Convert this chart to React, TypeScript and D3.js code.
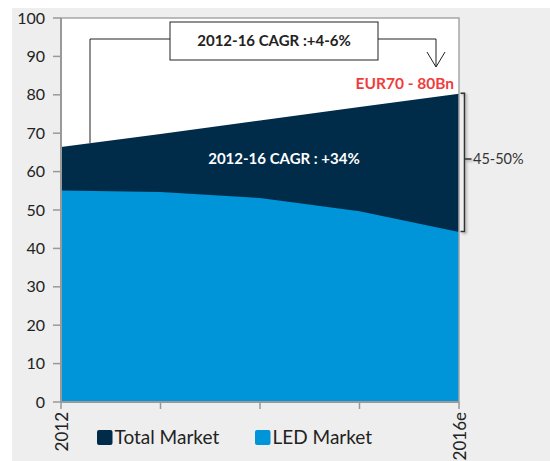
import React from "react";
import * as d3 from "d3";

const categories = ["2012", "2013", "2014", "2015", "2016e"];
const tickLabels = ["2012", "", "", "", "2016e"];
const totalMarket = [66.4, 69.8, 73.3, 76.8, 80.3];
const ledMarket = [55.1, 54.7, 53.1, 49.7, 44.3];
const yTicks = [0, 10, 20, 30, 40, 50, 60, 70, 80, 90, 100];

const W = 550;
const H = 461;
const FONT = "Lato, 'Open Sans', sans-serif";
const DARK = "#002b49";
const BLUE = "#0094d8";

export default function App() {
  const x = d3.scalePoint<string>().domain(categories).range([61, 459]);
  const y = d3.scaleLinear().domain([0, 100]).range([402, 18]);

  const area = (vals: number[]) =>
    d3
      .area<number>()
      .x((_, i) => x(categories[i]) as number)
      .y0(y(0))
      .y1((d) => y(d))
      .curve(d3.curveLinear)(vals) as string;

  const x0 = x(categories[0]) as number;
  const x1 = x(categories[categories.length - 1]) as number;

  return (
    <svg
      width={W}
      height={H}
      style={{ position: "absolute", left: 0, top: 0, fontFamily: FONT }}
    >
      <defs>
        <filter id="sh" x="-50%" y="-10%" width="200%" height="120%">
          <feDropShadow dx="1.5" dy="1.5" stdDeviation="1" floodColor="#000" floodOpacity="0.35" />
        </filter>
      </defs>
      <rect x={0} y={0} width={W} height={H} fill="#fff" />
      <rect x={12} y={8} width={W - 12} height={H - 8} fill="#eeeeee" />
      {/* plot area */}
      <rect x={x0} y={y(100)} width={x1 - x0} height={y(0) - y(100)} fill="#fff" />
      <path d={area(totalMarket)} fill={DARK} />
      <path d={area(ledMarket)} fill={BLUE} />
      <rect
        x={x0}
        y={y(100)}
        width={x1 - x0}
        height={y(0) - y(100)}
        fill="none"
        stroke="#a6a6a6"
        strokeWidth={1.5}
      />
      {/* y axis */}
      <line x1={x0} x2={x0} y1={y(100)} y2={y(0)} stroke="#999" strokeWidth={2} />
      {yTicks.map((t) => (
        <g key={t}>
          <line x1={x0 - 8} x2={x0} y1={y(t)} y2={y(t)} stroke="#999" strokeWidth={1.5} />
          <text
            x={x0 - 16}
            y={y(t)}
            dy="0.35em"
            textAnchor="end"
            fontSize={16}
            fill="#222"
          >
            {t}
          </text>
        </g>
      ))}
      {/* x axis */}
      <line x1={x0} x2={x1} y1={y(0)} y2={y(0)} stroke="#999" strokeWidth={2} />
      {categories.map((c, i) => (
        <g key={c}>
          <line
            x1={x(c) as number}
            x2={x(c) as number}
            y1={y(0)}
            y2={y(0) + 7}
            stroke="#999"
            strokeWidth={1.5}
          />
          {tickLabels[i] && (
            <text
              transform={`translate(${(x(c) as number) + 6.5},${y(0) + 10}) rotate(-90)`}
              textAnchor="end"
              fontSize={17}
              fill="#222"
            >
              {tickLabels[i]}
            </text>
          )}
        </g>
      ))}
      {/* legend */}
      <rect x={97} y={430} width={15.5} height={15} rx={2} fill={DARK} />
      <text x={114.5} y={444} fontSize={19} fill="#222">
        Total Market
      </text>
      <rect x={255} y={430} width={15.5} height={15} rx={2} fill={BLUE} />
      <text x={272.5} y={444} fontSize={19} fill="#222">
        LED Market
      </text>
      {/* top CAGR annotation */}
      <path d="M90,143 V39 H170" fill="none" stroke="#222" strokeWidth={1} />
      <path d="M378,39 H436 V67" fill="none" stroke="#222" strokeWidth={1} />
      <path d="M427,52 L436,67 L445,52" fill="none" stroke="#222" strokeWidth={1} />
      <rect x={170} y={22} width={208} height={38} fill="#fff" stroke="#222" strokeWidth={1} />
      <text x={274} y={41} dy="0.35em" textAnchor="middle" fontSize={15} fontWeight="bold" fill="#222">
        2012-16 CAGR :+4-6%
      </text>
      <text x={454} y={84} dy="0.35em" textAnchor="end" fontSize={15.5} fontWeight="bold" fill="#f03c3c">
        EUR70 - 80Bn
      </text>
      <text x={284} y={159} dy="0.35em" textAnchor="middle" fontSize={15} fontWeight="bold" fill="#fff">
        2012-16 CAGR : +34%
      </text>
      {/* right bracket */}
      <g filter="url(#sh)">
        <path
          d={`M460.5,${y(totalMarket[4]) - 0.5} H464.5 V${y(ledMarket[4]) - 0.5} H460.5 M464.5,159 H471.5`}
          fill="none"
          stroke="#333"
          strokeWidth={1.5}
        />
      </g>
      <text x={473} y={159} dy="0.35em" fontSize={14.5} fill="#333">
        45-50%
      </text>
    </svg>
  );
}
